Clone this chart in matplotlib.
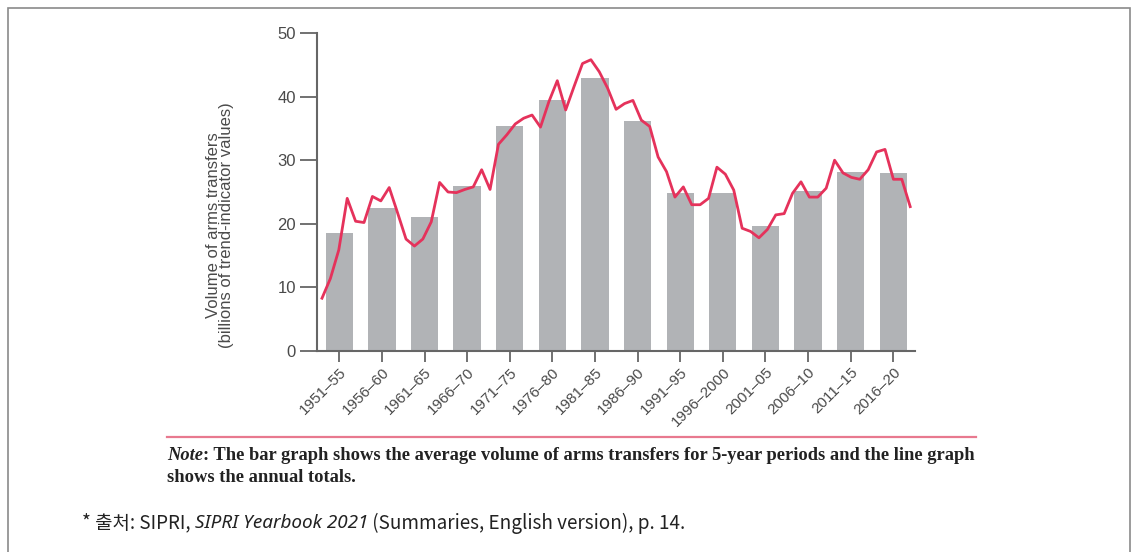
import matplotlib
matplotlib.use("Agg")
import matplotlib.pyplot as plt
from matplotlib.patches import Rectangle
from matplotlib.lines import Line2D

# ---- data ----
periods = ["1951–55", "1956–60", "1961–65", "1966–70", "1971–75", "1976–80",
           "1981–85", "1986–90", "1991–95", "1996–2000", "2001–05", "2006–10",
           "2011–15", "2016–20"]
period_avg = [18.5, 22.5, 21.1, 26.0, 35.3, 39.5, 42.9, 36.1, 24.8, 24.9,
              19.7, 25.2, 28.2, 28.0]
years = list(range(1950, 2021))
annual = [8.3, 11.4, 15.9, 24.0, 20.4, 20.2, 24.3, 23.6, 25.7, 21.7,
          17.6, 16.5, 17.6, 20.3, 26.5, 25.0, 24.9, 25.4, 25.8, 28.5,
          25.4, 32.5, 34.0, 35.7, 36.6, 37.1, 35.2, 39.2, 42.5, 37.9,
          41.6, 45.2, 45.8, 43.9, 41.3, 38.0, 38.9, 39.4, 36.3, 35.3,
          30.5, 28.2, 24.2, 25.8, 23.0, 23.0, 24.0, 28.9, 27.8, 25.3,
          19.3, 18.8, 17.8, 19.1, 21.4, 21.6, 24.8, 26.6, 24.2, 24.2,
          25.6, 30.0, 28.0, 27.3, 27.0, 28.5, 31.3, 31.7, 27.0, 27.0,
          22.7]
y_ticks = [0, 10, 20, 30, 40, 50]

plt.rcParams["font.family"] = ["Liberation Sans", "DejaVu Sans"]

W, H = 1138, 552
fig = plt.figure(figsize=(W / 100, H / 100), dpi=100)

# outer frame
fig.patches.append(Rectangle((8 / W, -0.05), (1130 - 8) / W, 1.05 - 8 / H,
                             transform=fig.transFigure, fill=False,
                             edgecolor="#8a8a8a", linewidth=1.2))

ax = fig.add_axes([316.7 / W, 1 - 351 / H, (915 - 316.7) / W, (351 - 33) / H])
xs = list(range(len(periods)))
ax.bar(xs, period_avg, width=0.64, color="#b1b3b6", zorder=1)
ax.set_xlim(-0.53, 13.51)
ax.set_ylim(0, 50)
ax.set_yticks(y_ticks)
ax.set_xticks(xs)
ax.set_xticklabels(periods, rotation=45, ha="right", rotation_mode="anchor",
                   fontsize=11, color="#4a4a4a")
ax.tick_params(axis="y", labelsize=12, labelcolor="#4a4a4a", length=12,
               width=1.3, color="#666666", pad=3)
ax.tick_params(axis="x", length=8, width=1.3, color="#666666", pad=2)
for s in ["top", "right"]:
    ax.spines[s].set_visible(False)
for s in ["left", "bottom"]:
    ax.spines[s].set_color("#666666")
    ax.spines[s].set_linewidth(1.5)

fig.text(220 / W, 1 - 225 / H,
         "Volume of arms transfers\n(billions of trend-indicator values)",
         rotation=90, fontsize=12, color="#4a4a4a", ha="center", va="center",
         linespacing=0.88, multialignment="center")

# line on a twin x axis with years
ax2 = ax.twiny()
ax2.plot(years, annual, color="#e5325b", linewidth=2.0, zorder=3)
ax2.set_xlim(1949.37, 2020.57)
ax2.set_ylim(0, 50)
ax2.axis("off")

# note separator line
fig.add_artist(Line2D([167 / W, 976 / W], [1 - 437 / H, 1 - 437 / H],
                      transform=fig.transFigure, color="#e8798f", linewidth=1.6))

note_kw = dict(fontsize=13.3, family="Liberation Serif", fontweight="bold",
               color="#222222", va="center", ha="left")
fig.canvas.draw()
r = fig.canvas.get_renderer()
t1 = fig.text(167 / W, 1 - 455 / H, "Note", style="italic", **note_kw)
bb = t1.get_window_extent(renderer=r)
fig.text(bb.x1 / W, 1 - 455 / H,
         ": The bar graph shows the average volume of arms transfers for 5-year periods and the line graph",
         **note_kw)
fig.text(167 / W, 1 - 478 / H, "shows the annual totals.", **note_kw)

# source line
src_kw = dict(fontsize=13.6, color="#222222", va="center", ha="left")
ys = 1 - 523 / H
s1 = fig.text(82 / W, ys, "* 출처: SIPRI, ", family=["Noto Sans CJK KR", "DejaVu Sans"], **src_kw)
bb = s1.get_window_extent(renderer=r)
s2 = fig.text(bb.x1 / W, ys, "SIPRI Yearbook 2021", family="Noto Sans",
              style="italic", **src_kw)
bb = s2.get_window_extent(renderer=r)
fig.text(bb.x1 / W, ys, " (Summaries, English version), p. 14.",
         family=["Noto Sans CJK KR", "DejaVu Sans"], **src_kw)

fig.savefig("out.png", dpi=100)
